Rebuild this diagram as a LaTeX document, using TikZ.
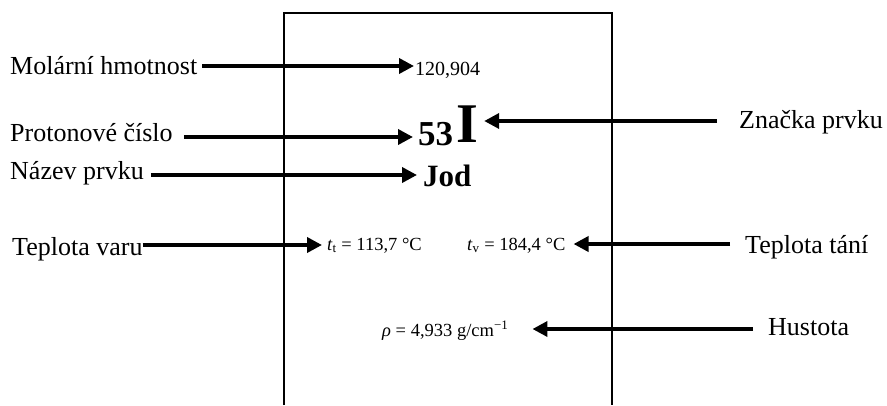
\documentclass[tikz,border=0pt]{standalone}
\usepackage{fontspec}
\setmainfont{Liberation Serif}
\usetikzlibrary{arrows.meta}
\tikzset{
  lab/.style={inner sep=0pt, anchor=base west, font=\fontsize{26}{30}\selectfont},
  val/.style={inner sep=0pt, anchor=base west, font=\fontsize{18.5}{22}\selectfont},
  arr/.style={line width=3.6pt, -{Triangle[length=15pt,width=15pt]}},
  frame/.style={line width=2pt}
}
\begin{document}
\begin{tikzpicture}[x=1pt,y=-1pt]
\useasboundingbox (0,0) rectangle (887,405);
% frame
\draw[frame] (284,405) -- (284,12.5) -- (612,12.5) -- (612,405);
% left labels
\node[lab] (molar) at (10,74) {Molární hmotnost};
\node[lab] (proton) at (10,141) {Protonové číslo};
\node[lab] (nazev) at (10,179) {Název prvku};
\node[lab] (varu) at (12,255) {Teplota varu};
% right labels
\node[lab] (znacka) at (739,128) {Značka prvku};
\node[lab] (tani) at (745,253) {Teplota tání};
\node[lab] (hust) at (768,335) {Hustota};
% values
\node[val, font=\fontsize{20}{24}\selectfont] (mw) at (415,75) {120,904};
\node[inner sep=0pt, anchor=base west, font=\fontsize{35}{40}\selectfont\bfseries] (cislo) at (418,145) {53};
\node[inner sep=0pt, anchor=base west, font=\fontsize{56}{60}\selectfont\bfseries] (znak) at (456,142) {I};
\node[inner sep=0pt, anchor=base west, font=\fontsize{31}{36}\selectfont\bfseries] (jod) at (423,186) {Jod};
\node[val] (tt) at (327,250) {\textit{t}\textsubscript{t} = 113,7 °C};
\node[val] (tv) at (467,250) {\textit{t}\textsubscript{v} = 184,4 °C};
\node[val] (rho) at (382,336) {\textit{ρ} = 4,933 g/cm\textsuperscript{−1}};
% arrows
\draw[arr] ([xshift=5pt,yshift=8pt]molar.base east) -- ([xshift=-1pt,yshift=9pt]mw.base west);
\draw[arr] ([xshift=11pt,yshift=4pt]proton.base east) -- ([xshift=-5pt,yshift=8pt]cislo.base west);
\draw[arr] ([xshift=7pt,yshift=4pt]nazev.base east) -- ([xshift=-6pt,yshift=11pt]jod.base west);
\draw[arr] ([xshift=-22pt,yshift=7pt]znacka.base west) -- ([xshift=6pt,yshift=21pt]znak.base east);
\draw[arr] ([xshift=0pt,yshift=10pt]varu.base east) -- ([xshift=-5pt,yshift=5pt]tt.base west);
\draw[arr] ([xshift=-15pt,yshift=9pt]tani.base west) -- ([xshift=8pt,yshift=6pt]tv.base east);
\draw[arr] ([xshift=-15pt,yshift=6pt]hust.base west) -- ([xshift=24pt,yshift=7pt]rho.base east);
\end{tikzpicture}
\end{document}
